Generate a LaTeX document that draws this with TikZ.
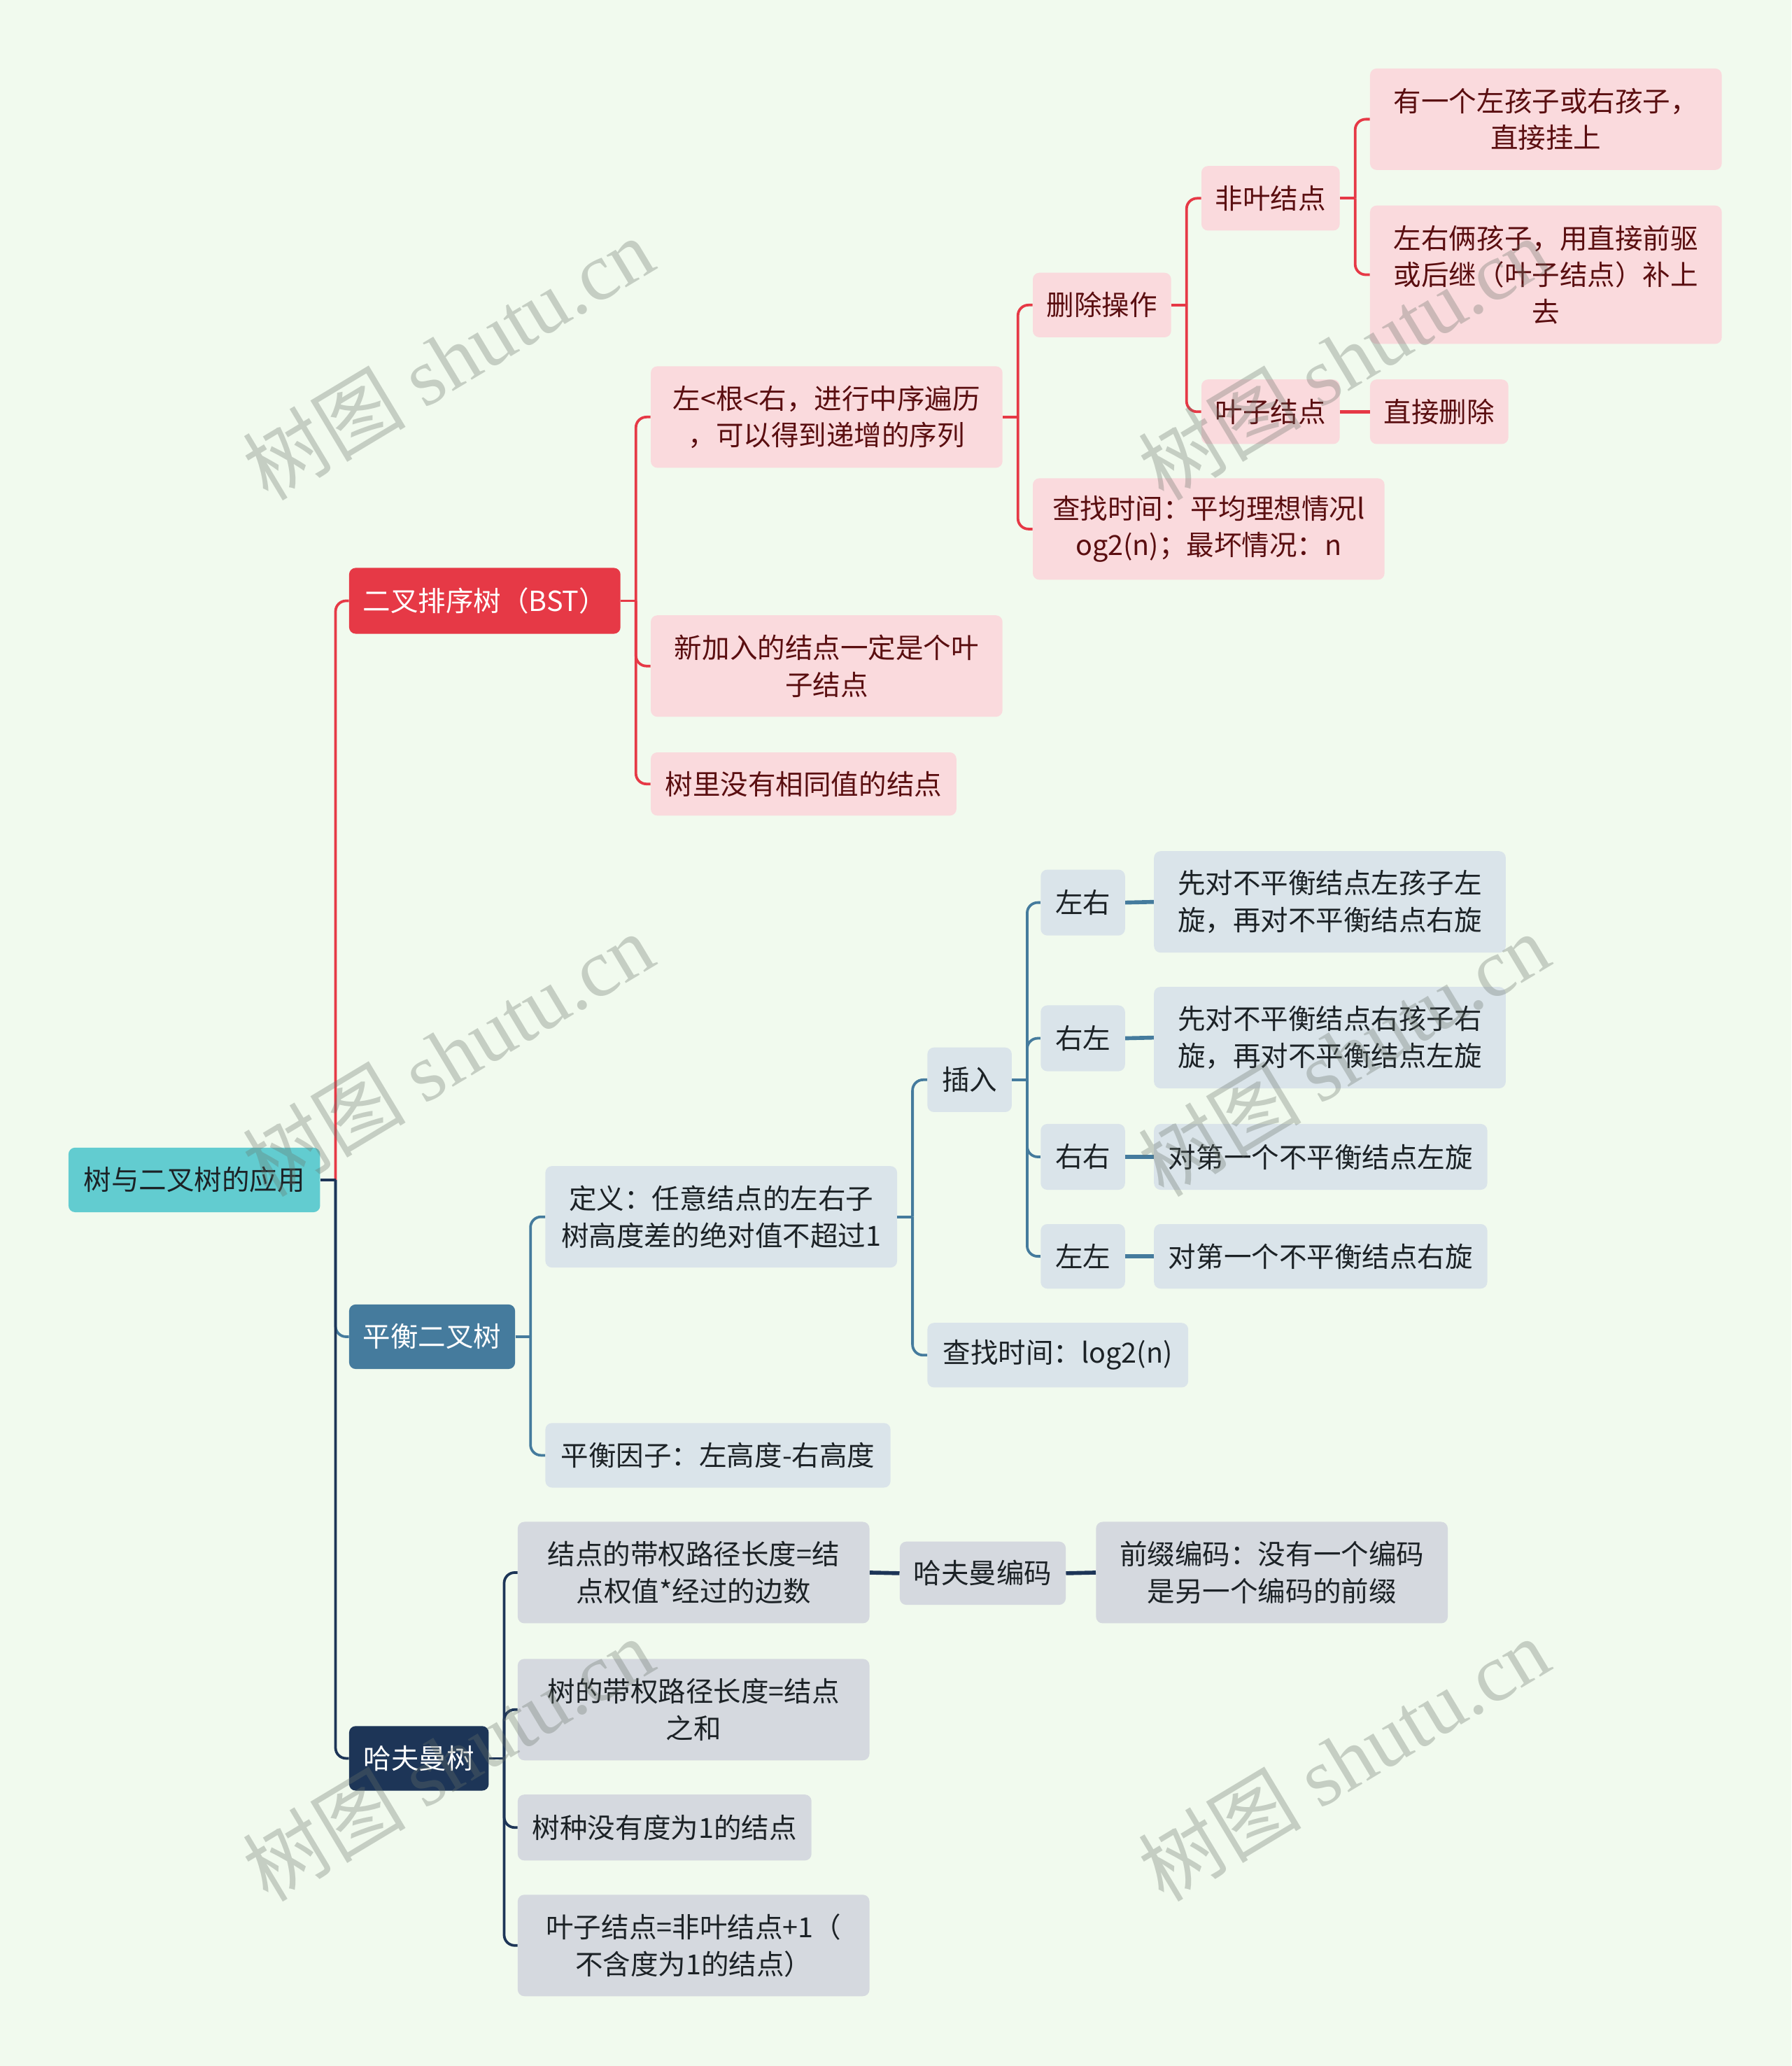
\documentclass[tikz,border=0pt]{standalone}
\usepackage{fontspec}
\setmainfont{Noto Sans CJK SC}
\newfontfamily\wmlatin{Liberation Serif}
\usetikzlibrary{calc}
\definecolor{bgc}{HTML}{F1FAEE}
\definecolor{rootc}{HTML}{62CCD0}
\definecolor{redc}{HTML}{E63946}
\definecolor{bluec}{HTML}{457B9D}
\definecolor{navyc}{HTML}{1D3557}
\definecolor{pinkc}{HTML}{FADADD}
\definecolor{lbluec}{HTML}{DAE4EA}
\definecolor{grayc}{HTML}{D5D9DF}
\definecolor{maroon}{HTML}{5A0E10}
\definecolor{darkt}{HTML}{1C2226}
\definecolor{wmc}{RGB}{105,115,105}
\tikzset{
  box/.style={rounded corners=5, inner sep=0pt, align=center,
    font={\fontsize{21}{28}\selectfont}},
  rootbox/.style={box, fill=rootc, text=darkt},
  redbox/.style={box, fill=redc, text=white},
  bluebox/.style={box, fill=bluec, text=white},
  navybox/.style={box, fill=navyc, text=white},
  pinkbox/.style={box, fill=pinkc, text=maroon},
  lbluebox/.style={box, fill=lbluec, text=darkt},
  graybox/.style={box, fill=grayc, text=darkt},
  ln/.style={line width=2pt},
  thickln/.style={line width=3pt},
  wm/.style={text=wmc, opacity=0.32, font={\fontsize{62}{62}\selectfont}, rotate=31, inner sep=0pt}
}
\newcommand\nd[7]{\node[#2, minimum width={#5-#3}, minimum height={#6-#4}] (#1) at ({(#3+#5)/2},{(#4+#6)/2}) {#7};}
\newcommand\br[3]{%
  \draw[ln,#3] (#1.east) -- ++(11.5,0);
  \draw[ln,#3,rounded corners=8] ($(#1.east)+(11.5,0)$) |- (#2.west);}
\newcommand\st[3]{\draw[thickln,#3] (#1.east) -- (#2.west);}
\begin{document}
\begin{tikzpicture}[x=1pt,y=-1pt]
\useasboundingbox (0,0) rectangle (1360,1568);
\fill[bgc] (0,0) rectangle (1360,1568);
% nodes
\nd{root}{rootbox}{52}{871}{243}{920}{树与二叉树的应用}
\nd{bst}{redbox}{265}{431}{471}{481}{二叉排序树（BST）}
\nd{b1}{pinkbox}{494}{278}{761}{355}{左<根<右，进行中序遍历\\，可以得到递增的序列}
\nd{b2}{pinkbox}{494}{467}{761}{544}{新加入的结点一定是个叶\\子结点}
\nd{b3}{pinkbox}{494}{571}{726}{619}{树里没有相同值的结点}
\nd{del}{pinkbox}{784}{207}{889}{256}{删除操作}
\nd{find1}{pinkbox}{784}{363}{1051}{440}{查找时间：平均理想情况l\\og2(n)；最坏情况：n}
\nd{nonleaf}{pinkbox}{912}{126}{1017}{175}{非叶结点}
\nd{leaf}{pinkbox}{912}{288}{1017}{337}{叶子结点}
\nd{nl1}{pinkbox}{1040}{52}{1307}{129}{有一个左孩子或右孩子，\\直接挂上}
\nd{nl2}{pinkbox}{1040}{156}{1307}{261}{左右俩孩子，用直接前驱\\或后继（叶子结点）补上\\去}
\nd{lf1}{pinkbox}{1040}{288}{1145}{337}{直接删除}
%
\nd{avl}{bluebox}{265}{990}{391}{1039}{平衡二叉树}
\nd{def}{lbluebox}{414}{885}{681}{962}{定义：任意结点的左右子\\树高度差的绝对值不超过1}
\nd{bf}{lbluebox}{414}{1080}{676}{1129}{平衡因子：左高度-右高度}
\nd{ins}{lbluebox}{704}{795}{768}{844}{插入}
\nd{find2}{lbluebox}{704}{1004}{902}{1053}{查找时间：log2(n)}
\nd{lr}{lbluebox}{790}{660}{854}{710}{左右}
\nd{lrt}{lbluebox}{876}{646}{1143}{723}{先对不平衡结点左孩子左\\旋，再对不平衡结点右旋}
\nd{rl}{lbluebox}{790}{763}{854}{813}{右左}
\nd{rlt}{lbluebox}{876}{749}{1143}{826}{先对不平衡结点右孩子右\\旋，再对不平衡结点左旋}
\nd{rr}{lbluebox}{790}{853}{854}{903}{右右}
\nd{rrt}{lbluebox}{876}{853}{1129}{903}{对第一个不平衡结点左旋}
\nd{ll}{lbluebox}{790}{929}{854}{978}{左左}
\nd{llt}{lbluebox}{876}{929}{1129}{978}{对第一个不平衡结点右旋}
%
\nd{huf}{navybox}{265}{1310}{371}{1359}{哈夫曼树}
\nd{h1}{graybox}{393}{1155}{660}{1232}{结点的带权路径长度=结\\点权值*经过的边数}
\nd{hc}{graybox}{683}{1170}{809}{1218}{哈夫曼编码}
\nd{hp}{graybox}{832}{1155}{1099}{1232}{前缀编码：没有一个编码\\是另一个编码的前缀}
\nd{h2}{graybox}{393}{1259}{660}{1336}{树的带权路径长度=结点\\之和}
\nd{h3}{graybox}{393}{1362}{616}{1412}{树种没有度为1的结点}
\nd{h4}{graybox}{393}{1438}{660}{1515}{叶子结点=非叶结点+1（\\不含度为1的结点）}
% connectors
\br{root}{bst}{redc}
\br{root}{avl}{bluec}
\br{root}{huf}{navyc}
\br{bst}{b1}{redc}
\br{bst}{b2}{redc}
\br{bst}{b3}{redc}
\br{b1}{del}{redc}
\br{b1}{find1}{redc}
\br{del}{nonleaf}{redc}
\br{del}{leaf}{redc}
\br{nonleaf}{nl1}{redc}
\br{nonleaf}{nl2}{redc}
\st{leaf}{lf1}{redc}
\br{avl}{def}{bluec}
\br{avl}{bf}{bluec}
\br{def}{ins}{bluec}
\br{def}{find2}{bluec}
\br{ins}{lr}{bluec}
\br{ins}{rl}{bluec}
\br{ins}{rr}{bluec}
\br{ins}{ll}{bluec}
\st{lr}{lrt}{bluec}
\st{rl}{rlt}{bluec}
\st{rr}{rrt}{bluec}
\st{ll}{llt}{bluec}
\br{huf}{h1}{navyc}
\br{huf}{h2}{navyc}
\br{huf}{h3}{navyc}
\br{huf}{h4}{navyc}
\st{h1}{hc}{navyc}
\st{hc}{hp}{navyc}
% watermarks
\foreach \i/\wx/\wy in {1/340/272, 2/340/800, 3/340/1335, 4/1020/272, 5/1020/800, 6/1020/1335}{
  \node[wm] (wm\i) at (\wx,\wy) {树图 {\wmlatin shutu.cn}};
}
\end{tikzpicture}
\end{document}
